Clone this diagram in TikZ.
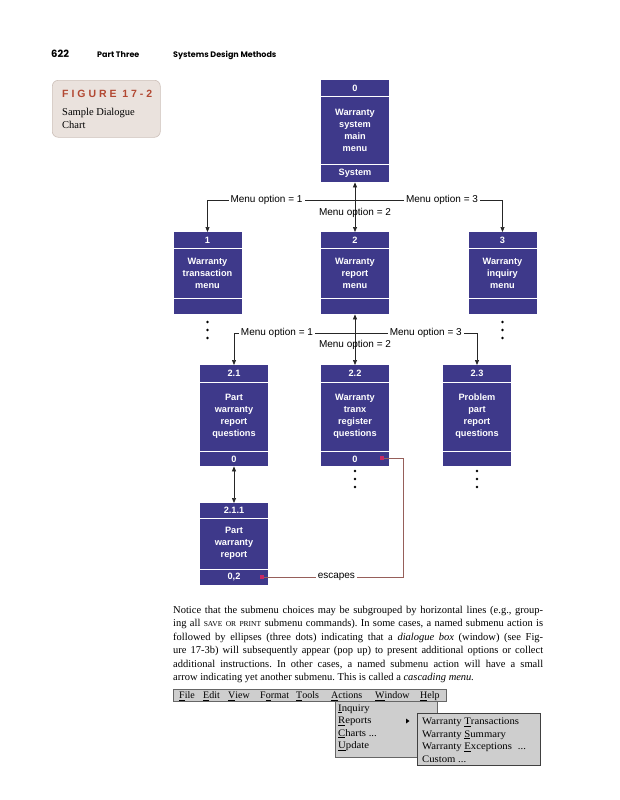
\documentclass[tikz,border=0pt]{standalone}
\usepackage{fontspec}
\setmainfont{Liberation Serif}
\newfontfamily\boxfont{Liberation Sans}
\newfontfamily\hdfont{Poppins}
\newfontfamily\menufont[FakeStretch=1.07]{Liberation Serif}
\newfontfamily\barfont{Liberation Serif}
\usetikzlibrary{arrows.meta,calc}
\definecolor{boxblue}{RGB}{62,57,138}
\definecolor{escred}{RGB}{150,95,90}
\definecolor{redsqc}{RGB}{200,40,100}
\definecolor{figred}{RGB}{178,72,50}
\definecolor{calloutbg}{RGB}{234,226,221}
\definecolor{calloutbd}{RGB}{205,192,185}
\definecolor{menugray}{RGB}{206,206,206}
\tikzset{
  dlg/.style={draw=none, fill=boxblue, minimum width=68pt, inner sep=0pt, anchor=north, rectangle},
  dlgtxt/.style={text=white, font=\boxfont\bfseries\fontsize{9.2}{12}\selectfont, align=center, inner sep=0pt},
  conn/.style={draw=black!85, line width=0.7pt},
  tip/.style={-{Triangle[length=5pt,width=4pt]}},
  dtip/.style={{Triangle[length=5pt,width=4pt]}-{Triangle[length=5pt,width=4pt]}},
  lbl/.style={fill=white, font=\boxfont\fontsize{10}{12}\selectfont, inner sep=2pt},
  lblplain/.style={font=\boxfont\fontsize{10}{12}\selectfont, inner sep=1pt},
  esc/.style={draw=escred, line width=0.7pt},
  redsq/.style={fill=redsqc, minimum size=4pt, inner sep=0pt, rectangle},
  bodyline/.style={anchor=base west, inner sep=0pt, font=\frenchspacing\fontsize{10.5}{12}\selectfont},
  menutxt/.style={anchor=base west, inner sep=0pt, font=\menufont\fontsize{10}{11}\selectfont},
  bartxt/.style={anchor=base west, inner sep=0pt, font=\barfont\fontsize{10}{11}\selectfont},
  menupanel/.style={fill=menugray, draw=black!60, line width=0.5pt, anchor=north west, inner sep=0pt, rectangle},
}
\newcommand{\dlgdraw}[9]{%
  \node[dlg, minimum height=#4pt] (#1) at (#2,#3) {};
  \draw[white, line width=0.8pt] ([yshift=-#5pt]#1.north west) -- ([yshift=-#5pt]#1.north east);
  \draw[white, line width=0.8pt] ([yshift=#6pt]#1.south west) -- ([yshift=#6pt]#1.south east);
  \node[dlgtxt] (#1h) at ([yshift=-#5pt/2]#1.north) {#7};
  \node[dlgtxt] (#1b) at ([yshift={-(#5+(#4-#5-#6)/2)*1pt}]#1.north) {#8};
  \node[dlgtxt] (#1f) at ([yshift=#6pt/2]#1.south) {#9};
}
\newcommand{\contdots}[2]{\foreach \yy in {0,8,16} \fill (#1,#2+\yy) circle (1.3pt);}
\begin{document}
\begin{tikzpicture}[x=1pt,y=-1pt]
\useasboundingbox (0,0) rectangle (619,800);
\fill[white] (0,0) rectangle (619,800);

% page header
\node[anchor=base west, inner sep=0pt, font=\hdfont\bfseries\fontsize{10}{12}\selectfont] (pg) at (51,57) {622};
\node[anchor=base west, inner sep=0pt, font=\hdfont\bfseries\fontsize{8}{9}\selectfont] (pt) at (97,57) {Part Three};
\node[anchor=base west, inner sep=0pt, font=\hdfont\bfseries\fontsize{8}{9}\selectfont] (st) at (173,57) {Systems Design Methods};

% figure callout
\node[fill=calloutbg, draw=calloutbd, line width=0.6pt, rounded corners=6pt, minimum width=108pt, minimum height=57pt, anchor=north west, inner sep=0pt] (fig) at (52,80) {};
\node[anchor=base west, inner sep=0pt, text=figred, font=\boxfont\bfseries\fontsize{10.5}{12}\selectfont\addfontfeature{LetterSpace=28}] (figt) at (62,97.5) {FIGURE 17-2};
\node[anchor=base west, inner sep=0pt, font=\fontsize{10.5}{13}\selectfont] (figc1) at (62,115.5) {Sample Dialogue};
\node[anchor=base west, inner sep=0pt, font=\fontsize{10.5}{13}\selectfont] (figc2) at (62,128.5) {Chart};

% dialogue boxes
\dlgdraw{B0}{355}{80}{102}{16}{18}{0}{Warranty\\system\\main\\menu}{System}
\dlgdraw{B1}{207.5}{232}{82}{16}{16}{1}{Warranty\\transaction\\menu}{}
\dlgdraw{B2}{355}{232}{82}{16}{16}{2}{Warranty\\report\\menu}{}
\dlgdraw{B3}{502.5}{232}{82}{16}{16}{3}{Warranty\\inquiry\\menu}{}
\dlgdraw{B21}{234}{365}{101}{17}{15}{2.1}{Part\\warranty\\report\\questions}{0}
\dlgdraw{B22}{355}{365}{101}{17}{15}{2.2}{Warranty\\tranx\\register\\questions}{0}
\dlgdraw{B23}{477}{365}{101}{17}{15}{2.3}{Problem\\part\\report\\questions}{}
\dlgdraw{B211}{234}{503}{82}{15}{16}{2.1.1}{Part\\warranty\\report}{0,2}

% level 0 -> 1
\coordinate (j1) at (355,200);
\draw[conn,tip] (j1) -- node[lbl,pos=0.6] (l1) {Menu option = 1} (B1.north |- j1) -- (B1.north);
\draw[conn,tip] (j1) -- node[lbl,pos=0.59] (l3) {Menu option = 3} (B3.north |- j1) -- (B3.north);
\draw[conn,dtip] (B0.south) -- (B2.north);
\node[lblplain] (l2) at (355,213) {Menu option = 2};

% level 1 -> 2
\coordinate (j2) at (355,333);
\draw[conn,tip] (j2) -- node[lbl,pos=0.645] (l21) {Menu option = 1} (B21.north |- j2) -- (B21.north);
\draw[conn,tip] (j2) -- node[lbl,pos=0.58] (l23) {Menu option = 3} (B23.north |- j2) -- (B23.north);
\draw[conn,dtip] (B2.south) -- (B22.north);
\node[lblplain] (l22) at (355,345) {Menu option = 2};

% level 2 -> 3
\draw[conn,dtip] (B21.south) -- (B211.north);

% continuation dots
\contdots{207.5}{322}
\contdots{502.5}{322}
\contdots{355}{471}
\contdots{477}{471}

% escapes
\node[redsq] (m1) at (382,458) {};
\node[redsq] (m2) at (262,577) {};
\coordinate (c1) at (403,577);
\coordinate (c2) at (403,458);
\draw[esc] (m2.east) -- node[lbl,pos=0.52] (le) {escapes} (c1) -- (c2) -- (m1.east);

% body text
\node[bodyline] (t1) at (173,613) {\makebox[370pt][s]{Notice that the submenu choices may be subgrouped by horizontal lines (e.g., group-}};
\node[bodyline] (t2) at (173,626.5) {\makebox[370pt][s]{ing all {\fontsize{7.5}{8}\selectfont SAVE} {\fontsize{7.5}{8}\selectfont OR} {\fontsize{7.5}{8}\selectfont PRINT} submenu commands). In some cases, a named submenu action is}};
\node[bodyline] (t3) at (173,640) {\makebox[370pt][s]{followed by ellipses (three dots) indicating that a \textit{dialogue box} (window) (see Fig-}};
\node[bodyline] (t4) at (173,653.5) {\makebox[370pt][s]{ure 17-3b) will subsequently appear (pop up) to present additional options or collect}};
\node[bodyline] (t5) at (173,667) {\makebox[370pt][s]{additional instructions. In other cases, a named submenu action will have a small}};
\node[bodyline] (t6) at (173,680.5) {arrow indicating yet another submenu. This is called a \textit{cascading menu.}};

% menu bar
\node[menupanel, minimum width=273pt, minimum height=12pt] (mbar) at (173,689) {};
\node[bartxt] (mf) at (179,698.5) {\underline{F}ile};
\node[bartxt] (me) at (203,698.5) {\underline{E}dit};
\node[bartxt] (mv) at (228,698.5) {\underline{V}iew};
\node[bartxt] (mo) at (260,698.5) {F\underline{o}rmat};
\node[bartxt] (mt) at (296,698.5) {\underline{T}ools};
\node[bartxt] (ma) at (331,698.5) {\underline{A}ctions};
\node[bartxt] (mw) at (375,698.5) {\underline{W}indow};
\node[bartxt] (mh) at (420,698.5) {\underline{H}elp};

% actions dropdown
\node[menupanel, minimum width=102pt, minimum height=56pt] (drop) at (335,701) {};
\node[menutxt] (di) at (338,711) {\underline{I}nquiry};
\node[menutxt] (dr) at (338,723.5) {\underline{R}eports};
\node[menutxt] (dc) at (338,736) {\underline{C}harts ...};
\node[menutxt] (du) at (338,748.5) {\underline{U}pdate};
\fill (406,718.5) -- (409.5,721) -- (406,723.5) -- cycle;

% cascading submenu
\node[menupanel, draw=black!75, minimum width=123pt, minimum height=52pt] (sub) at (417,713) {};
\node[menutxt] (s1) at (422,724.5) {Warranty \underline{T}ransactions};
\node[menutxt] (s2) at (422,737) {Warranty \underline{S}ummary};
\node[menutxt] (s3) at (422,749.5) {Warranty \underline{E}xceptions\hspace{6pt}...};
\node[menutxt] (s4) at (422,762) {Custom ...};
\end{tikzpicture}
\end{document}
